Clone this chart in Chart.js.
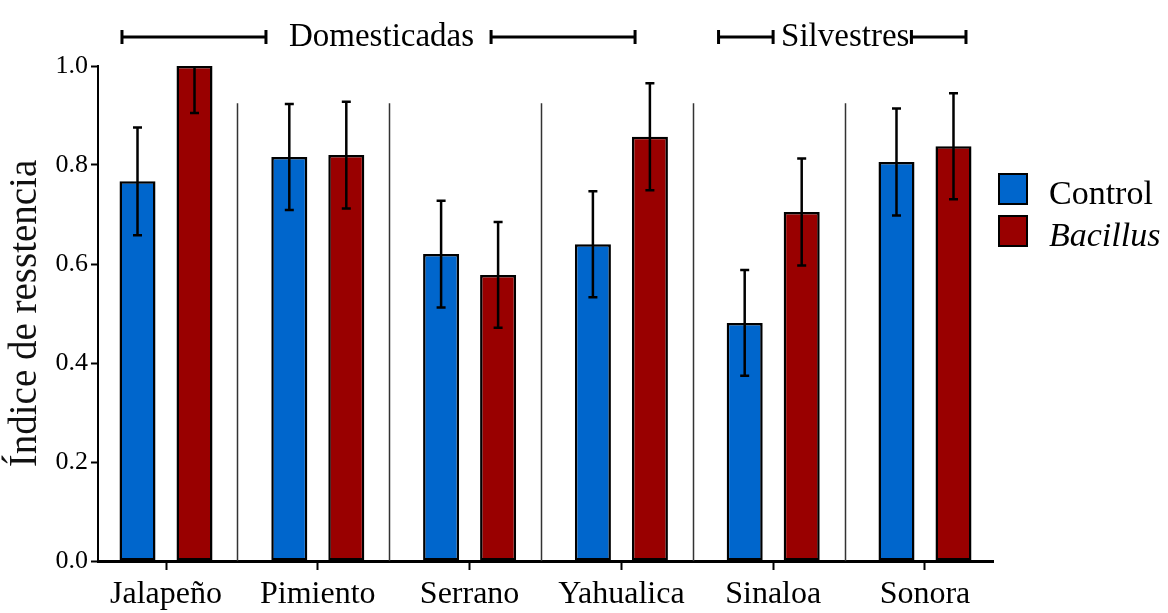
<!DOCTYPE html>
<html>
<head>
<meta charset="utf-8">
<script src="https://cdn.jsdelivr.net/npm/chart.js@4.4.1/dist/chart.umd.min.js"></script>
<style>
  html, body { margin: 0; padding: 0; background: #fff; }
  #wrap { width: 1168px; height: 613px; }
</style>
</head>
<body>
<div id="wrap"><canvas id="resistChart"></canvas></div>
<script>
const cultivars = ['Jalapeño', 'Pimiento', 'Serrano', 'Yahualica', 'Sinaloa', 'Sonora'];
const controlMean = [0.767, 0.816, 0.620, 0.640, 0.481, 0.806];
const controlErr = [0.109, 0.107, 0.108, 0.107, 0.107, 0.108];
const bacillusMean = [1.0, 0.820, 0.578, 0.857, 0.705, 0.838];
const bacillusErr = [0.095, 0.108, 0.107, 0.108, 0.108, 0.107];
const yTicks = [0, 0.2, 0.4, 0.6, 0.8, 1.0];

const seriesNames = ['Control', 'Bacillus'];
const seriesItalic = [false, true];
const seriesColors = ['#0066cc', '#990000'];

// group brackets above the plot, in category units
const groupNames = ['Domesticadas', 'Silvestres'];
const groupFrom = [-0.29, 3.64];
const groupTo = [3.09, 5.27];
const groupGap = [20, 5];

const serif = '"Liberation Serif", "Times New Roman", serif';
const errs = [controlErr, bacillusErr];

const separators = {
  id: 'separators',
  beforeDatasetsDraw(chart) {
    const { ctx, scales: { x, y } } = chart;
    ctx.save();
    ctx.strokeStyle = '#333';
    ctx.lineWidth = 1.5;
    ctx.beginPath();
    for (let i = 0; i < cultivars.length - 1; i++) {
      const px = Math.round(x.getPixelForValue(i + 0.47)) + 0.5;
      ctx.moveTo(px, y.getPixelForValue(0.925));
      ctx.lineTo(px, y.getPixelForValue(0));
    }
    ctx.stroke();
    ctx.restore();
  }
};

const errorBars = {
  id: 'errorBars',
  afterDatasetsDraw(chart) {
    const { ctx, chartArea, scales: { y } } = chart;
    ctx.save();
    ctx.beginPath();
    ctx.rect(chartArea.left, chartArea.top, chartArea.width, chartArea.height);
    ctx.clip();
    ctx.strokeStyle = '#000';
    ctx.lineWidth = 2.5;
    chart.data.datasets.forEach((ds, di) => {
      chart.getDatasetMeta(di).data.forEach((bar, i) => {
        const v = ds.data[i].y, e = errs[di][i];
        const top = y.getPixelForValue(v + e), bot = y.getPixelForValue(v - e);
        ctx.beginPath();
        ctx.moveTo(bar.x, top); ctx.lineTo(bar.x, bot);
        ctx.moveTo(bar.x - 4.5, top); ctx.lineTo(bar.x + 4.5, top);
        ctx.moveTo(bar.x - 4.5, bot); ctx.lineTo(bar.x + 4.5, bot);
        ctx.stroke();
      });
    });
    ctx.restore();
  }
};

const headers = {
  id: 'headers',
  afterDraw(chart) {
    const { ctx, chartArea, scales: { x } } = chart;
    const cy = chartArea.top - 29;
    ctx.save();
    ctx.font = '33px ' + serif;
    ctx.fillStyle = '#000';
    ctx.strokeStyle = '#000';
    ctx.lineWidth = 3;
    ctx.textAlign = 'center';
    ctx.textBaseline = 'alphabetic';
    groupNames.forEach((name, g) => {
      const x1 = x.getPixelForValue(groupFrom[g]);
      const x2 = x.getPixelForValue(groupTo[g]);
      const mid = (x1 + x2) / 2;
      const w = ctx.measureText(name).width;
      ctx.fillText(name, mid + 3, cy + 9);
      const segs = [[x1, mid - w / 2 - groupGap[g]], [mid + w / 2 + groupGap[g], x2]];
      segs.forEach(([a, b]) => {
        ctx.beginPath();
        ctx.moveTo(a, cy); ctx.lineTo(b, cy);
        ctx.moveTo(a, cy - 7); ctx.lineTo(a, cy + 7);
        ctx.moveTo(b, cy - 7); ctx.lineTo(b, cy + 7);
        ctx.stroke();
      });
    });
    ctx.restore();
  }
};

const sideLegend = {
  id: 'sideLegend',
  afterDraw(chart) {
    const { ctx, chartArea } = chart;
    ctx.save();
    chart.data.datasets.forEach((ds, i) => {
      const bx = chartArea.right + 5;
      const by = chartArea.top + 107 + i * 42;
      ctx.fillStyle = ds.backgroundColor;
      ctx.fillRect(bx, by, 30, 32);
      ctx.strokeStyle = '#000';
      ctx.lineWidth = 2;
      ctx.strokeRect(bx + 1, by + 1, 28, 30);
      ctx.fillStyle = '#000';
      ctx.font = (seriesItalic[i] ? 'italic ' : '') + '34px ' + serif;
      ctx.textBaseline = 'alphabetic';
      ctx.textAlign = 'left';
      ctx.fillText(ds.label, bx + 51, by + 31);
    });
    ctx.restore();
  }
};

new Chart(document.getElementById('resistChart'), {
  type: 'bar',
  data: {
    datasets: [{
      label: seriesNames[0],
      data: controlMean.map((v, i) => ({ x: i, y: v })),
      backgroundColor: seriesColors[0],
      borderColor: '#000',
      borderWidth: 2.5,
      borderSkipped: false
    }, {
      label: seriesNames[1],
      data: bacillusMean.map((v, i) => ({ x: i, y: v })),
      backgroundColor: seriesColors[1],
      borderColor: '#000',
      borderWidth: 2.5,
      borderSkipped: false
    }]
  },
  options: {
    responsive: true,
    maintainAspectRatio: false,
    animation: false,
    categoryPercentage: 0.751,
    barPercentage: 0.632,
    layout: { padding: { top: 66, right: 175, left: 0, bottom: 0 } },
    plugins: {
      legend: { display: false },
      tooltip: { enabled: false }
    },
    scales: {
      x: {
        type: 'linear',
        min: -0.448,
        max: 5.448,
        offset: false,
        afterBuildTicks(scale) { scale.ticks = cultivars.map((_, i) => ({ value: i })); },
        afterFit(scale) { scale.height = 52; },
        ticks: {
          callback: (v) => cultivars[v],
          font: { family: serif, size: 32 },
          color: '#000',
          padding: 5,
          maxRotation: 0,
          autoSkip: false
        },
        grid: { display: true, offset: false, drawOnChartArea: false, drawTicks: true, tickLength: 9, tickWidth: 2, tickColor: '#000' },
        border: { display: true, color: '#000', width: 3 }
      },
      y: {
        min: 0,
        max: 1,
        afterBuildTicks(scale) { scale.ticks = yTicks.map(v => ({ value: v })); },
        afterFit(scale) { scale.width = 98; },
        ticks: {
          callback: (v) => v.toFixed(1),
          font: { family: serif, size: 26 },
          color: '#000',
          padding: 3
        },
        grid: { drawOnChartArea: false, drawTicks: true, tickLength: 7, tickWidth: 2, tickColor: '#000' },
        border: { color: '#000', width: 2 },
        title: {
          display: true,
          text: 'Índice de resstencia',
          font: { family: serif, size: 39 },
          color: '#111',
          padding: { top: 2, bottom: 0 }
        }
      }
    }
  },
  plugins: [separators, errorBars, headers, sideLegend]
});
</script>
</body>
</html>
